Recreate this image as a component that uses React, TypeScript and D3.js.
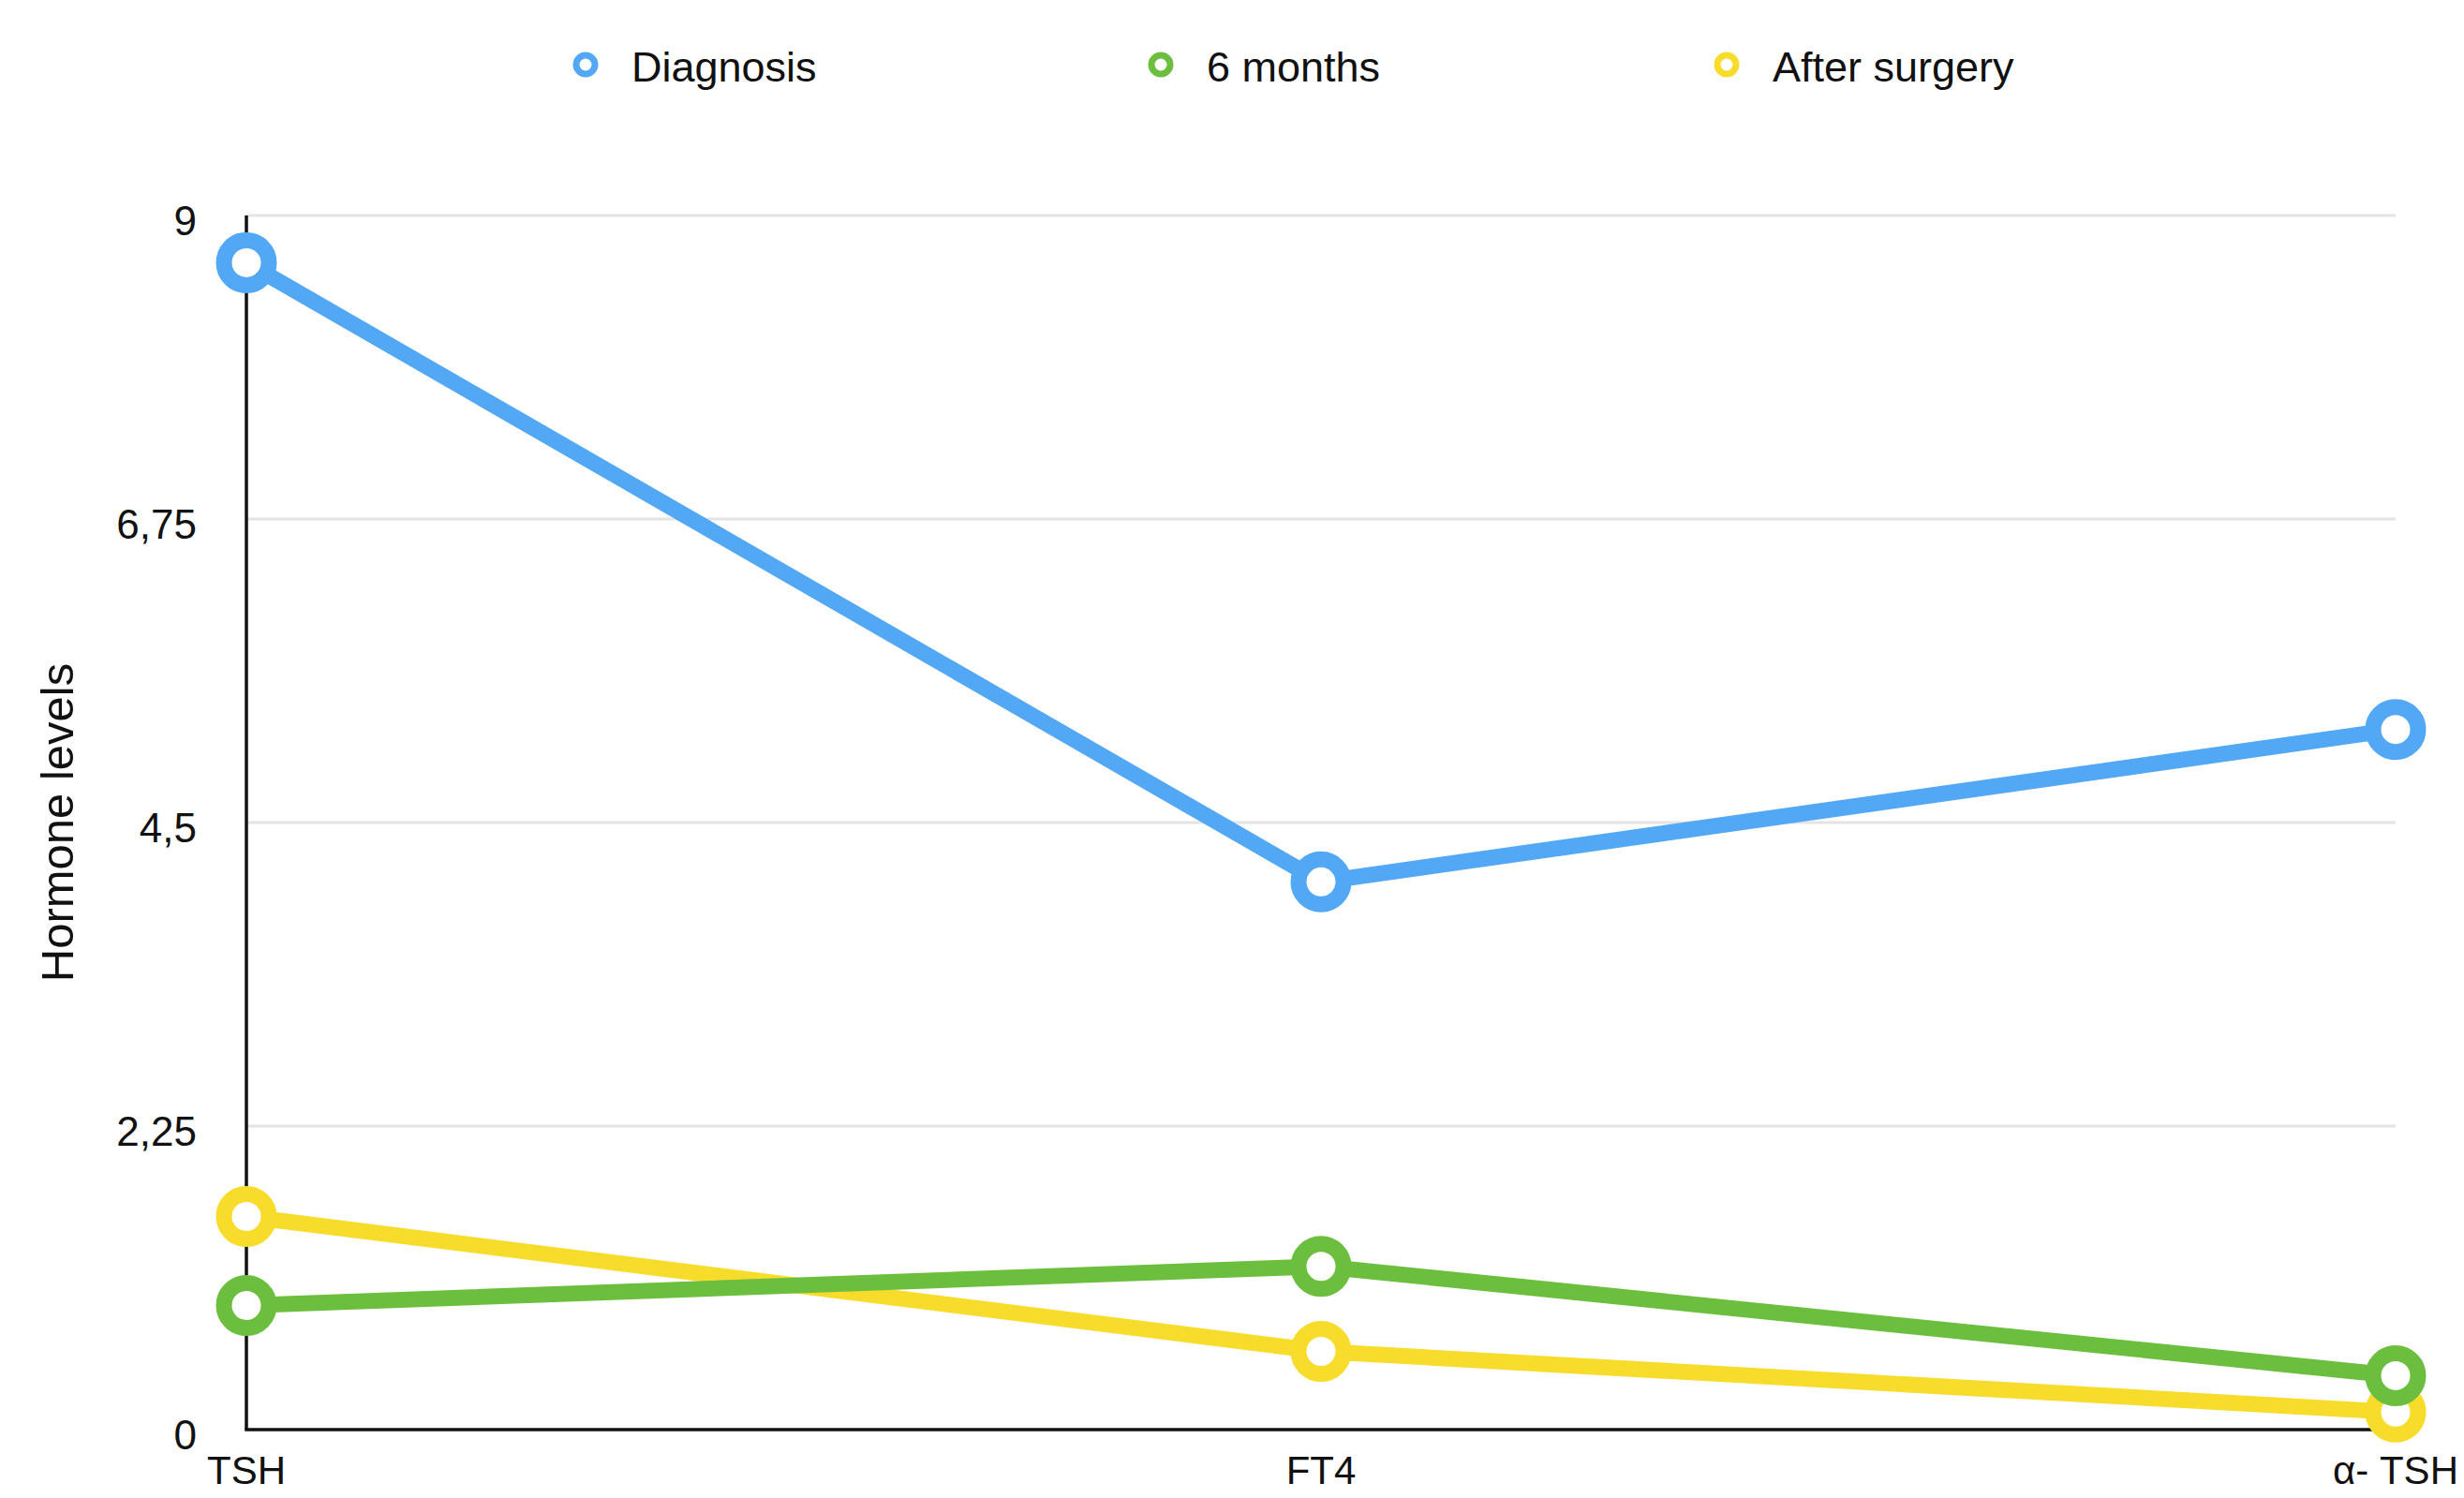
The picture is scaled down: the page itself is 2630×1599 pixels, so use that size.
import React, { useRef, useEffect } from "react";
import * as d3 from "d3";

// data
const categories = ["TSH", "FT4", "α- TSH"];
const seriesNames = ["Diagnosis", "6 months", "After surgery"];
const diagnosis = [8.65, 4.06, 5.19];
const sixMonths = [0.92, 1.21, 0.4];
const afterSurgery = [1.58, 0.58, 0.13];
const yTicks = [0, 2.25, 4.5, 6.75, 9];
const colors = ["#53a8f6", "#6cbf3e", "#f8dc2c"];

const W = 2630;
const H = 1599;
const FONT = "'Liberation Sans', Arial, Helvetica, sans-serif";

const App = () => {
	const svgRef = useRef(null);

	useEffect(() => {
		const svg = d3.select(svgRef.current);
		svg.selectAll("*").remove();

		const x = d3.scalePoint().domain(categories).range([263, 2557]);
		const y = d3.scaleLinear().domain([0, 9]).range([1526, 230]);

		//gridlines
		svg.append("g")
			.selectAll("line")
			.data(yTicks.filter(d => d > 0))
			.enter()
			.append("line")
			.attr("x1", x(categories[0]))
			.attr("x2", x(categories[2]))
			.attr("y1", d => y(d))
			.attr("y2", d => y(d))
			.attr("stroke", "#e4e4e4")
			.attr("stroke-width", 3);

		//axes
		svg.append("line")
			.attr("x1", x(categories[0])).attr("x2", x(categories[0]))
			.attr("y1", y(9)).attr("y2", y(0))
			.attr("stroke", "#111").attr("stroke-width", 3.5);
		svg.append("line")
			.attr("x1", x(categories[0]) - 1.75).attr("x2", x(categories[2]))
			.attr("y1", y(0)).attr("y2", y(0))
			.attr("stroke", "#111").attr("stroke-width", 3.5);

		//y tick labels
		svg.append("g")
			.selectAll("text")
			.data(yTicks)
			.enter()
			.append("text")
			.attr("x", 210)
			.attr("y", d => y(d) + 21)
			.attr("text-anchor", "end")
			.attr("font-family", FONT)
			.attr("font-size", 44)
			.attr("fill", "#111")
			.text(d => String(d).replace(".", ","));

		//x labels
		svg.append("g")
			.selectAll("text")
			.data(categories)
			.enter()
			.append("text")
			.attr("x", d => x(d))
			.attr("y", 1584)
			.attr("text-anchor", "middle")
			.attr("font-family", FONT)
			.attr("font-size", 42)
			.attr("fill", "#111")
			.text(d => d);

		//y title
		svg.append("text")
			.attr("transform", "translate(78,878) rotate(-90)")
			.attr("text-anchor", "middle")
			.attr("font-family", FONT)
			.attr("font-size", 49)
			.attr("fill", "#111")
			.text("Hormone levels");

		//series, last one at the bottom
		const series = [diagnosis, sixMonths, afterSurgery];
		const line = d3.line().x((_, i) => x(categories[i])).y(d => y(d));
		const order = [2, 1, 0];
		order.forEach(s => {
			const g = svg.append("g");
			g.append("path")
				.attr("d", line(series[s]))
				.attr("fill", "none")
				.attr("stroke", colors[s])
				.attr("stroke-width", 17)
				.attr("stroke-linejoin", "round");
			g.selectAll("circle")
				.data(series[s])
				.enter()
				.append("circle")
				.attr("cx", (_, i) => x(categories[i]))
				.attr("cy", d => y(d))
				.attr("r", 24)
				.attr("fill", "#fff")
				.attr("stroke", colors[s])
				.attr("stroke-width", 17);
		});

		//legend
		const legendX = [625, 1239, 1843];
		const lg = svg.append("g");
		seriesNames.forEach((name, i) => {
			lg.append("circle")
				.attr("cx", legendX[i]).attr("cy", 69)
				.attr("r", 10)
				.attr("fill", "#fff")
				.attr("stroke", colors[i])
				.attr("stroke-width", 7);
			lg.append("text")
				.attr("x", legendX[i] + 49)
				.attr("y", 87)
				.attr("font-family", FONT)
				.attr("font-size", 45)
				.attr("fill", "#111")
				.text(name);
		});
	});

	return (
		<div>
			<svg ref={svgRef} width={W} height={H} style={{ position: "absolute", left: 0, top: 0, background: "#fff" }}>
			</svg>
		</div>
	)
};

export default App;
